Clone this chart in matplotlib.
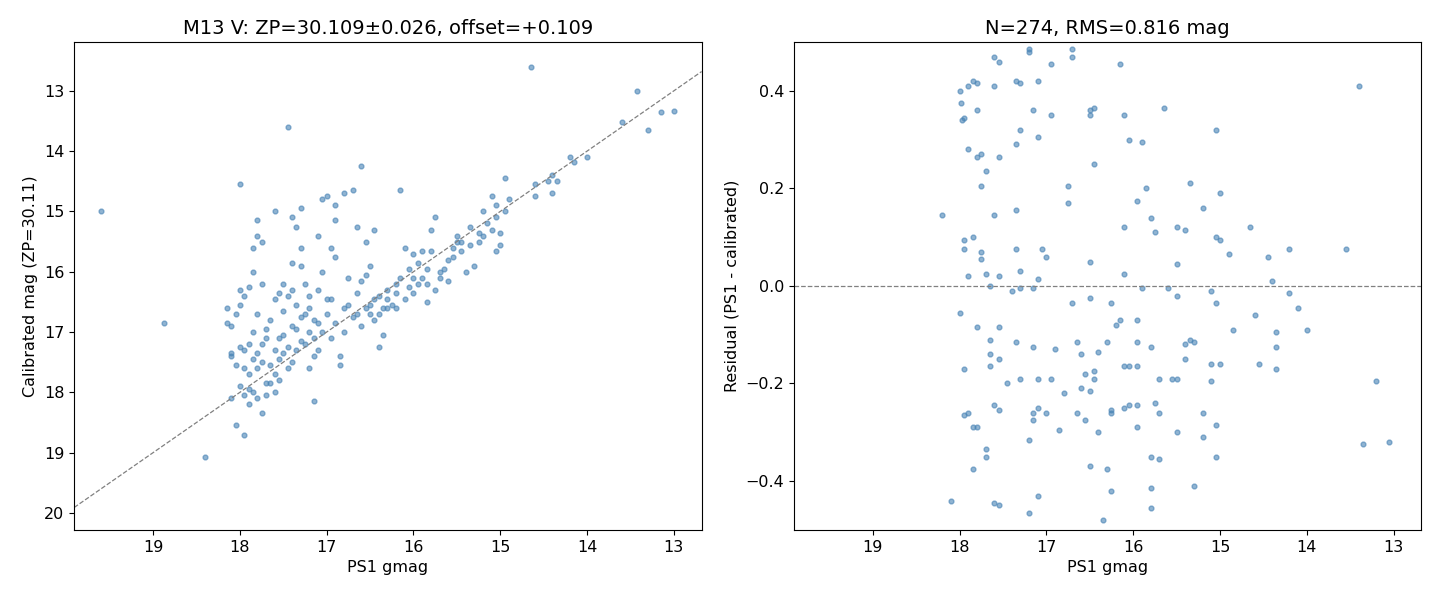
import matplotlib
matplotlib.use("Agg")
import matplotlib.pyplot as plt
import numpy as np

left_pts = [(19.6,15.0),(18.87,16.85),(18.4,19.07),(18.1,18.1),(18.05,18.55),(18.0,14.55),(17.45,13.6),(14.65,12.6),
(13.42,13.0),(13.6,13.52),(13.3,13.65),(13.15,13.35),(13.0,13.33),(14.0,14.1),(14.2,14.1),(14.15,14.18),(14.4,14.4),
(14.35,14.5),(14.45,14.5),(14.4,14.7),(14.6,14.55),(14.6,14.75),(14.9,14.8),(14.95,15.0),(15.05,14.9),(14.95,14.45),
(15.1,14.75),(15.2,15.0),(15.05,15.1),(15.0,15.35),(15.05,15.65),(15.0,15.55),(15.1,15.3),(15.25,15.5),(15.3,15.9),
(15.35,15.25),(15.45,15.5),(15.5,15.4),(15.55,15.6),(15.4,16.0),(15.6,15.8),(15.6,16.15),(15.75,15.1),(15.8,15.65),
(15.85,15.95),(15.9,15.65),(15.9,16.1),(15.95,16.2),(15.85,16.5),(15.7,16.0),(15.75,16.3),(15.8,15.3),(16.0,15.7),
(16.0,16.1),(16.05,16.25),(16.1,15.6),(16.15,14.65),(16.15,16.1),(16.2,16.35),(16.2,16.6),(16.25,16.55),(16.3,16.3),
(16.35,16.6),(16.4,16.4),(16.45,15.3),(16.45,16.8),(16.35,17.05),(16.4,17.25),(16.5,16.55),(16.5,16.7),(16.55,15.5),
(16.55,16.05),(16.6,16.15),(16.6,16.9),(16.6,14.25),(16.65,16.7),(16.7,14.65),(16.7,16.75),(16.75,16.1),(16.8,14.7),
(16.8,16.6),(16.8,17.0),(16.85,17.4),(16.85,17.55),(16.9,14.9),(16.9,15.15),(16.9,15.75),(16.95,15.6),(16.95,16.45),
(16.95,17.1),(17.0,14.75),(17.0,16.7),(17.05,16.0),(17.05,17.0),(17.1,15.4),(17.1,16.3),(17.1,17.3),(17.15,16.8),
(17.15,17.4),(17.2,16.4),(17.2,17.6),(17.15,18.15),(17.25,16.2),(17.25,16.7),(17.25,17.2),(17.3,15.6),(17.3,15.9),
(17.3,14.95),(17.35,15.25),(17.35,16.55),(17.35,17.3),(17.4,15.1),(17.4,15.85),(17.4,16.3),(17.4,16.9),(17.4,17.5),
(17.45,16.4),(17.45,17.6),(17.5,16.2),(17.5,16.65),(17.5,17.05),(17.55,16.35),(17.55,17.8),(17.6,15.0),(17.6,16.45),
(17.6,17.3),(17.6,18.0),(17.65,16.8),(17.65,17.55),(17.7,17.1),(17.7,17.85),(17.75,15.5),(17.75,16.2),(17.75,17.5),
(17.75,18.35),(17.8,15.15),(17.8,15.4),(17.8,16.7),(17.8,17.35),(17.85,15.6),(17.85,16.0),(17.85,17.0),(17.85,18.0),
(17.9,16.25),(17.9,17.2),(17.9,17.7),(17.9,18.2),(17.95,16.4),(17.95,17.6),(17.95,18.7),(18.0,16.3),(18.0,16.55),
(18.0,17.25),(18.0,17.9),(18.05,16.7),(18.05,17.55),(18.1,17.4),(18.1,16.9),(18.15,16.6),(18.15,16.85),(18.1,17.35),
(17.7,18.05),(17.65,17.85),(17.55,17.45),(17.3,17.15),(17.2,17.0),(16.3,16.45),(16.0,16.35),(15.7,16.1),(15.5,15.5),
(15.2,15.4),(17.05,14.8),(16.65,15.25),(16.5,15.9),
(17.95,17.3),(17.85,17.45),(17.8,17.6),(17.75,17.2),(17.7,16.95),(17.6,17.7),(17.55,17.1),(17.5,17.35),(17.45,17.25),
(17.35,16.95),(17.3,16.75),(17.2,16.6),(17.15,17.1),(17.1,16.85),(17.0,16.45),(16.9,16.85),(16.75,16.55),(16.65,16.35),
(16.55,16.6),(16.45,16.45),(16.4,16.7),(16.3,16.6),(16.2,16.2),(16.1,16.45),(16.05,15.95),(15.95,15.85),(15.85,16.2),
(15.65,15.95),(15.55,15.75),(15.45,15.65),(15.35,15.55),(15.25,15.35),(15.15,15.2),(17.9,17.95),(17.8,18.1),(17.95,18.05)]

right_pts = [(18.2,0.145),(18.1,-0.44),(18.0,0.4),(17.98,0.375),(17.95,0.345),(17.97,0.34),(17.9,0.41),(17.85,0.42),
(17.8,0.415),(17.9,0.28),(17.8,0.36),(17.75,0.27),(17.8,0.265),(17.7,0.235),(17.75,0.205),(17.6,0.47),(17.55,0.46),
(17.6,0.41),(17.55,0.265),(17.6,0.145),(17.95,0.095),(17.85,0.1),(17.95,0.075),(17.75,0.07),(17.75,0.055),(17.9,0.02),
(17.7,0.025),(17.65,0.0),(17.55,0.02),(18.0,-0.055),(17.8,-0.085),(17.65,-0.11),(17.65,-0.14),(17.65,-0.165),
(17.95,-0.17),(17.55,-0.085),(17.45,-0.2),(17.6,-0.245),(17.55,-0.255),(17.95,-0.265),(17.9,-0.26),(17.8,-0.29),
(17.85,-0.29),(17.85,-0.375),(17.7,-0.335),(17.7,-0.35),(17.6,-0.445),(17.55,-0.45),(17.35,0.42),(17.3,0.415),
(17.2,0.48),(17.2,0.485),(17.1,0.42),(17.15,0.36),(17.3,0.32),(17.1,0.305),(17.35,0.29),(17.35,0.155),(17.05,0.075),
(17.35,0.075),(17.0,0.06),(17.3,0.03),(17.1,0.015),(17.3,-0.005),(17.4,-0.01),(17.15,-0.005),(17.35,-0.115),
(17.15,-0.125),(17.1,-0.19),(17.3,-0.19),(17.1,-0.25),(17.15,-0.26),(17.15,-0.275),(17.2,-0.315),(17.1,-0.43),
(17.2,-0.465),(16.95,0.35),(16.95,0.455),(16.7,0.485),(16.7,0.47),(16.75,0.205),(16.75,0.17),(16.5,0.35),(16.5,0.36),
(16.45,0.365),(16.45,0.25),(16.15,0.455),(16.1,0.35),(16.05,0.3),(15.9,0.295),(16.1,0.12),(15.95,0.175),(15.85,0.2),
(15.8,0.14),(15.75,0.11),(15.65,0.365),(15.5,0.12),(15.4,0.115),(15.35,0.21),(15.2,0.16),(15.05,0.32),(15.0,0.19),
(15.05,0.1),(15.0,0.095),(14.9,0.065),(14.65,0.12),(14.45,0.06),(14.2,0.075),(14.4,0.01),(14.2,-0.015),(14.1,-0.045),
(14.0,-0.09),(14.35,-0.095),(14.35,-0.125),(14.35,-0.17),(14.55,-0.16),(14.6,-0.06),(14.85,-0.09),(15.05,-0.035),
(15.1,-0.01),(15.0,-0.16),(15.1,-0.16),(15.1,-0.195),(15.05,-0.285),(15.2,-0.26),(15.2,-0.31),(15.05,-0.35),
(15.3,-0.41),(15.35,-0.11),(15.4,-0.12),(15.4,-0.15),(15.3,-0.115),(15.5,-0.02),(15.5,0.045),(15.6,-0.005),
(15.5,-0.19),(15.55,-0.19),(15.7,-0.19),(15.5,-0.3),(15.7,-0.26),(15.75,-0.24),(15.7,-0.355),(15.8,-0.35),
(15.8,-0.415),(15.8,-0.455),(15.8,-0.125),(15.9,-0.005),(15.95,-0.07),(15.95,-0.115),(15.95,-0.165),(15.95,-0.245),
(15.95,-0.29),(16.05,-0.165),(16.1,-0.165),(16.05,-0.245),(16.1,-0.25),(16.15,-0.07),(16.1,0.025),(16.2,-0.08),
(16.25,-0.035),(16.3,-0.115),(16.25,-0.255),(16.25,-0.26),(16.3,-0.375),(16.25,-0.42),(16.35,-0.48),(16.4,-0.3),
(16.4,-0.135),(16.45,-0.19),(16.45,-0.175),(16.5,-0.215),(16.55,-0.18),(16.6,-0.14),(16.65,-0.115),(16.6,-0.21),
(16.65,-0.26),(16.55,-0.275),(16.5,-0.37),(16.5,-0.025),(16.5,0.05),(16.7,-0.035),(16.8,-0.22),(16.85,-0.295),
(16.9,-0.13),(16.95,-0.19),(13.4,0.41),(13.55,0.075),(13.2,-0.195),(13.35,-0.325),(13.05,-0.32),(17.55,-0.15),(17.0,-0.26)]

lx, ly = np.array(left_pts).T
rx, ry = np.array(right_pts).T

plt.rcParams['font.size'] = 11.5
fig, (ax1, ax2) = plt.subplots(1, 2, figsize=(14.4, 6), dpi=100)
c = '#4682b4'
ax1.scatter(lx, ly, s=12, color=c, alpha=0.6)
ax1.plot([19.91, 12.68], [19.91, 12.68], '--', color='gray', lw=0.9)
ax1.set_xlim(19.91, 12.68)
ax1.set_ylim(20.28, 12.19)
ax1.set_xlabel('PS1 gmag')
ax1.set_ylabel('Calibrated mag (ZP=30.11)')
ax1.set_title('M13 V: ZP=30.109±0.026, offset=+0.109', fontsize=14)

ax2.scatter(rx, ry, s=12, color=c, alpha=0.6)
ax2.axhline(0, ls='--', color='gray', lw=0.9)
ax2.set_xlim(19.91, 12.68)
ax2.set_ylim(-0.5, 0.5)
ax2.set_xlabel('PS1 gmag')
ax2.set_ylabel('Residual (PS1 - calibrated)')
ax2.set_title('N=274, RMS=0.816 mag', fontsize=14)

fig.subplots_adjust(left=0.0515, right=0.987, top=0.93, bottom=0.117, wspace=0.147)
fig.savefig('out.png')
